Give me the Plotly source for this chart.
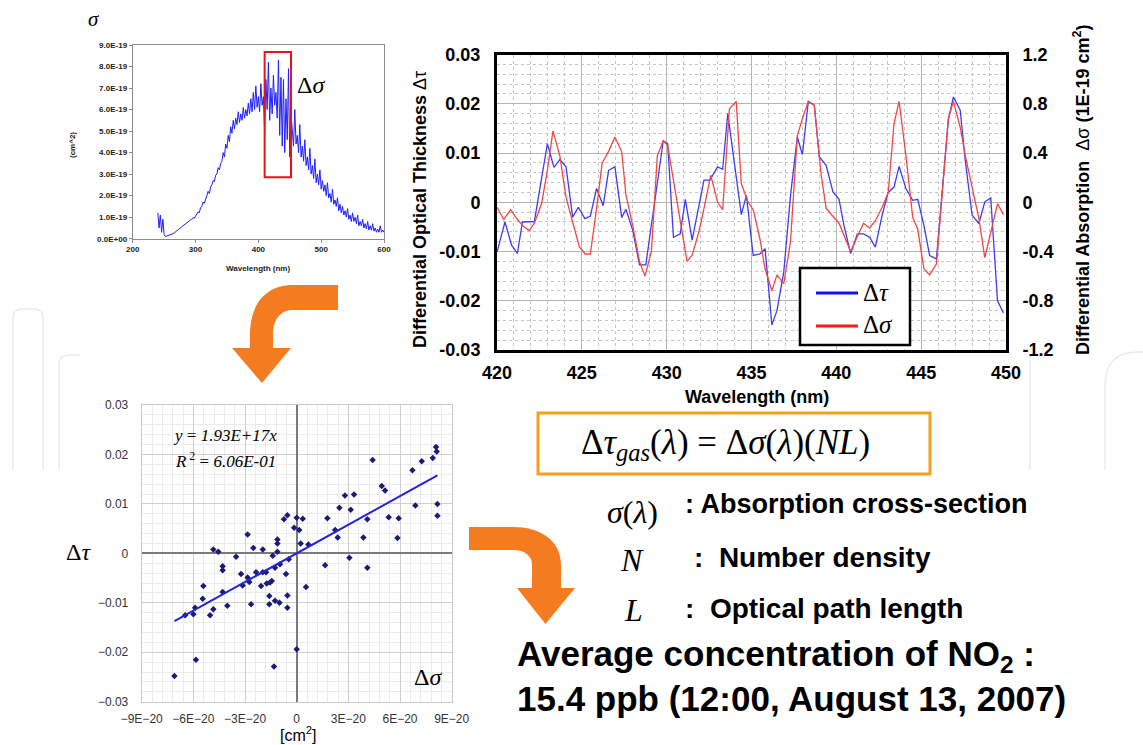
import plotly.graph_objects as go

W, H = 1143, 745

# ---------------- data ----------------
# NO2 absorption cross-section spectrum (units of 1E-19 cm^2), 2 nm steps 240..600 nm
spec_wl = list(range(240, 601, 2))
spec_sigma = [
    1.2, 0.5, 1.1, 0.3, 0.9, 0.2, 0.1,
    0.12, 0.13, 0.15, 0.17, 0.2, 0.23, 0.27, 0.31, 0.36, 0.4, 0.45, 0.5, 0.55, 0.6, 0.65, 0.7,
    0.74, 0.78, 0.82, 0.87, 0.9, 0.98, 0.95, 1.05,
    1.1, 1.25, 1.2, 1.45, 1.5, 1.7, 1.65, 1.9, 2.0, 2.2, 2.1, 2.4, 2.5, 2.7, 2.65, 2.95, 3.0, 3.3, 3.2, 3.5,
    3.6, 4.0, 3.8, 4.4, 4.2, 4.8, 4.5, 5.2, 4.9, 5.5, 5.1, 5.6, 5.3, 5.9, 5.4, 5.8, 5.5, 6.1, 5.6, 6.0,
    5.7, 6.3, 5.8, 6.5, 5.9, 6.8, 6.0, 7.1, 6.1, 6.6, 5.9, 7.2, 6.2, 6.6,
    5.0, 7.4, 6.0, 8.2, 5.5, 7.0, 5.8, 7.6, 6.2, 6.8, 5.6, 8.3, 4.8, 7.5, 4.3, 7.4, 4.0, 6.5, 4.6, 7.9, 3.8, 5.8,
    5.2, 4.3, 6.0, 4.4, 4.8, 4.0, 5.3, 3.8, 4.3, 3.6, 4.6, 3.4, 3.8, 3.2, 4.2, 3.0, 3.4, 2.8, 3.7, 2.6, 3.0, 2.5, 3.2, 2.3,
    2.7, 2.2, 2.5, 2.0, 2.6, 1.9, 2.1, 1.7, 2.3, 1.6, 1.8, 1.5, 1.9, 1.3, 1.6, 1.2, 1.5, 1.1, 1.3, 1.0, 1.4, 0.9, 1.1, 0.8, 1.2,
    0.8, 1.0, 0.7, 1.1, 0.6, 0.8, 0.6, 0.9, 0.5, 0.7, 0.45, 0.8, 0.4, 0.6, 0.4, 0.7, 0.35, 0.5, 0.3, 0.45, 0.3, 0.6, 0.3, 0.4, 0.3,
]
spec_ticks = [0, 1, 2, 3, 4, 5, 6, 7, 8, 9]
spec_ticktext = ["0.0E+00"] + [f"{v}.0E-19" for v in spec_ticks[1:]]
box_wl = [410, 452]
box_sigma = [2.85, 8.68]

# Differential optical thickness (measured)
tau_wl = [420.0, 420.47, 420.86, 421.2, 421.5, 422.2, 422.97, 423.36, 423.7, 424.07,
          424.46, 424.79, 425.18, 425.5, 425.87, 426.26, 426.58, 426.95, 427.35, 427.6,
          428.0, 428.4, 428.77, 429.8, 430.06, 430.4, 430.8, 431.1, 431.5, 432.2,
          432.55, 433.0, 433.3, 433.6, 434.4, 434.7, 435.1, 435.5, 435.8, 436.2,
          436.5, 436.9, 437.3, 437.7, 438.0, 438.35, 438.7, 439.0, 439.4, 439.8,
          440.16, 440.45, 440.84, 441.24, 441.6, 441.96, 442.3, 442.7, 443.06, 443.4,
          443.7, 444.1, 444.5, 444.8, 445.16, 445.5, 445.9, 446.6, 446.9, 447.3,
          447.6, 448.0, 448.4, 448.75, 449.1, 449.5, 449.85]
tau_val = [-0.0101, -0.004, -0.0087, -0.0104, -0.004, -0.0039, 0.0119, 0.0071, 0.0087, 0.0072,
           -0.003, -0.001, -0.0033, -0.0028, 0.0028, -0.0007, 0.0065, 0.0072, -0.0031, -0.0014,
           -0.0057, -0.0127, -0.0127, 0.0125, 0.0119, -0.0071, -0.0064, 0.0006, -0.0077, 0.0045,
           0.0045, 0.0072, 0.0067, 0.018, -0.0025, 0.0014, -0.0108, -0.0105, -0.0094, -0.0249,
           -0.022, -0.0142, 0.0014, 0.0133, 0.0097, 0.0205, 0.0197, 0.0092, 0.0075, 0.0021,
           0.0006, -0.0047, -0.0104, -0.0064, -0.0064, -0.0071, -0.0091, -0.0026, 0.002, 0.0031,
           0.0073, 0.0028, 0.0004, 0.0006, -0.0047, -0.0108, -0.0115, 0.0167, 0.0214, 0.0187,
           0.0085, -0.0026, -0.0043, 0.0001, 0.0009, -0.02, -0.0225]

# Differential absorption cross-section (1E-19 cm^2)
sig_wl = [420.0, 420.4, 420.8, 421.2, 421.6, 421.9, 422.2, 422.63, 422.97, 423.3,
          423.7, 424.07, 424.46, 424.85, 425.2, 425.5, 425.87, 426.2, 426.6, 426.95,
          427.35, 427.6, 428.0, 428.4, 428.72, 429.1, 429.45, 429.8, 430.06, 430.85,
          431.2, 431.5, 431.9, 432.2, 432.6, 433.0, 433.3, 433.7, 434.1, 434.4,
          434.8, 435.1, 435.5, 435.8, 436.2, 436.5, 436.9, 437.3, 437.7, 438.0,
          438.35, 438.7, 439.1, 439.4, 440.16, 440.84, 441.24, 441.6, 441.96, 442.3,
          442.7, 443.06, 443.4, 443.7, 444.1, 444.5, 444.8, 445.16, 445.5, 445.9,
          446.2, 446.6, 446.9, 447.3, 447.6, 448.0, 448.4, 448.75, 449.1, 449.5, 449.85]
sig_val = [-0.04, -0.14, -0.06, -0.14, -0.2, -0.23, -0.17, -0.01, 0.26, 0.58,
           0.38, 0.04, -0.16, -0.36, -0.42, -0.42, -0.05, 0.32, 0.42, 0.53,
           0.41, 0.06, -0.19, -0.48, -0.6, -0.4, 0.38, 0.5, 0.46, -0.2,
           -0.48, -0.43, -0.24, -0.05, 0.22, 0.0, -0.06, 0.76, 0.82, 0.15,
           0.0, -0.06, -0.3, -0.54, -0.72, -0.59, -0.66, -0.32, 0.54, 0.68,
           0.82, 0.79, 0.23, -0.05, -0.17, -0.4, -0.28, -0.17, -0.21, -0.15,
           -0.04, 0.08, 0.64, 0.82, 0.38, -0.12, -0.22, -0.54, -0.59, -0.5,
           0.0, 0.68, 0.82, 0.61, 0.38, 0.11, -0.13, -0.45, -0.24, -0.01, -0.1]

# Scatter: delta sigma (1E-20 cm^2) vs delta tau
sc_dsig = [-7.1, -5.85, -1.32, 0.0, -6.48, -6.0, -5.9, -5.46, -5.42, -5.03,
           -4.84, -4.84, -4.55, -4.3, -4.3, -4.3, -4.03, -3.52, -3.23, -3.14,
           -2.85, -2.85, -2.75, -2.65, -2.52, -2.36, -2.07, -1.97, -1.97, -1.78,
           -1.74, -1.59, -1.59, -1.55, -1.45, -1.39, -1.26, -1.26, -1.12, -1.12,
           -1.12, -1.0, -0.97, -0.74, -0.62, -0.54, -0.54, -0.54, -0.46, -0.15,
           0.0, 0.15, 0.23, 0.35, 0.54, 0.68, 1.65, 1.78, 2.23, 2.38,
           2.48, 2.8, 3.06, 3.14, 3.33, 3.87, 4.1, 4.1, 4.41, 4.94,
           5.13, 5.34, 5.85, 5.92, 6.72, 6.89, 7.26, 7.9, 8.09, 8.13, 8.17, 8.17]
sc_dtau = [-0.0248, -0.0215, -0.0229, -0.0194, -0.0125, -0.0123, -0.011, -0.0092, -0.0066, -0.0125,
           -0.0113, 0.0008, 0.0003, -0.0026, -0.0034, -0.0078, -0.0106, -0.0007, -0.0042, -0.0065,
           0.0038, -0.0049, -0.0058, -0.0103, 0.0011, -0.0038, -0.0066, 0.0008, -0.0038, -0.0038,
           -0.0061, -0.0086, -0.0103, -0.0059, -0.0056, -0.0005, -0.0029, -0.0096, 0.0028, 0.002,
           0.0003, -0.01, -0.0022, 0.0069, -0.0042, 0.0077, -0.0085, -0.011, -0.0012, 0.0052,
           0.0072, 0.0047, 0.002, 0.007, -0.0068, 0.0018, -0.0024, 0.0071, 0.0047, 0.0032,
           0.0092, 0.0117, -0.0009, 0.0088, 0.0119, 0.0032, 0.0069, -0.0029, 0.0189, 0.0136,
           0.0127, 0.0073, 0.0031, 0.0071, 0.0168, 0.0097, 0.0186, 0.0193, 0.0215, 0.0206, 0.01, 0.0076]
fit_slope = 1.93e17   # per cm^2
sc_xticks = [-9, -6, -3, 0, 3, 6, 9]
sc_xticktext = ["\u22129E\u221220", "\u22126E\u221220", "\u22123E\u221220", "0", "3E\u221220", "6E\u221220", "9E\u221220"]
sc_yticks = [-0.03, -0.02, -0.01, 0, 0.01, 0.02, 0.03]
sc_yticktext = ["\u22120.03", "\u22120.02", "\u22120.01", "0", "0.01", "0.02", "0.03"]

main_yticks = [-0.03, -0.02, -0.01, 0, 0.01, 0.02, 0.03]
main_yticktext = ["-0.03", "-0.02", "-0.01", "0", "0.01", "0.02", "0.03"]
main_y2ticks = [-1.2, -0.8, -0.4, 0, 0.4, 0.8, 1.2]
main_y2ticktext = ["-1.2", "-0.8", "-0.4", "0", "0.4", "0.8", "1.2"]

# ---------------- helpers ----------------
def px(x):
    return x / W

def py(y):
    return 1 - y / H

def ppath(cmds, close=True):
    out = []
    for c in cmds:
        op, pts = c[0], c[1:]
        coords = []
        for i in range(0, len(pts), 2):
            coords.append(f"{px(pts[i]):.5f},{py(pts[i+1]):.5f}")
        out.append(op + " " + " ".join(coords))
    return " ".join(out) + (" Z" if close else "")

SANS = "Liberation Sans, Arial, sans-serif"
SERIF = "Liberation Serif, Times New Roman, serif"
ORANGE = "#f47b20"

fig = go.Figure()

# spectrum
fig.add_trace(go.Scatter(x=spec_wl, y=spec_sigma, mode="lines", xaxis="x", yaxis="y",
                         line=dict(color="#1f1fff", width=1), showlegend=False))
# main chart
fig.add_trace(go.Scatter(x=tau_wl, y=tau_val, mode="lines", xaxis="x2", yaxis="y2",
                         line=dict(color="#3d3df2", width=1.3), showlegend=False))
fig.add_trace(go.Scatter(x=sig_wl, y=sig_val, mode="lines", xaxis="x2", yaxis="y3",
                         line=dict(color="#f24646", width=1.3), showlegend=False))
# scatter
fig.add_trace(go.Scatter(x=sc_dsig, y=sc_dtau, mode="markers", xaxis="x3", yaxis="y4",
                         marker=dict(symbol="diamond", size=5, color="#1b1b78"), showlegend=False))
fx = [min(sc_dsig), max(sc_dsig)]
fig.add_trace(go.Scatter(x=fx, y=[fit_slope * v * 1e-20 for v in fx], mode="lines", xaxis="x3", yaxis="y4",
                         line=dict(color="#2424d8", width=2), showlegend=False))

tf_main = dict(family=SANS, size=18, color="black", weight="bold")
common_main = dict(showline=True, linecolor="black", linewidth=3, mirror=True, zeroline=False,
                   ticks="outside", tickcolor="rgba(0,0,0,0)", automargin=False)

fig.update_layout(
    width=W, height=745, margin=dict(l=0, r=0, t=0, b=0, pad=0),
    paper_bgcolor="white", plot_bgcolor="white",
    xaxis=dict(domain=[px(132.7), px(384)], range=[200, 600], tickvals=[200, 300, 400, 500, 600],
               tickfont=dict(family=SANS, size=8, weight="bold", color="#222"),
               showline=True, linecolor="#8a8a8a", mirror=True, showgrid=False, zeroline=False,
               ticks="outside", ticklen=3, tickcolor="#8a8a8a", anchor="y", automargin=False),
    yaxis=dict(domain=[py(238.7), py(45)], range=[0, 9], tickvals=spec_ticks, ticktext=spec_ticktext,
               tickfont=dict(family=SANS, size=8, weight="bold", color="#222"),
               showline=True, linecolor="#8a8a8a", mirror=True, showgrid=False, zeroline=False,
               ticks="outside", ticklen=3, tickcolor="#8a8a8a", anchor="x", automargin=False),
    xaxis2=dict(domain=[px(497), px(1006)], range=[420, 450], tickvals=[420, 425, 430, 435, 440, 445, 450],
                tickfont=tf_main, showgrid=True, gridcolor="#b4b4b4", gridwidth=1, ticklen=4,
                minor=dict(dtick=1, tick0=420, showgrid=True, gridcolor="#c6c6c6", griddash="dot", gridwidth=1),
                anchor="y2", **common_main),
    yaxis2=dict(domain=[py(350), py(54.6)], range=[-0.03, 0.03], tickvals=main_yticks, ticktext=main_yticktext,
                tickfont=tf_main, showgrid=True, gridcolor="#b4b4b4", gridwidth=1, ticklen=10,
                minor=dict(dtick=0.002, tick0=0, showgrid=True, gridcolor="#c6c6c6", griddash="dot", gridwidth=1),
                anchor="x2", **common_main),
    yaxis3=dict(overlaying="y2", side="right", range=[-1.2, 1.2], tickvals=main_y2ticks, ticktext=main_y2ticktext,
                tickfont=tf_main, showgrid=False, anchor="x2", showline=True, linecolor="black", linewidth=3,
                zeroline=False, ticks="outside", ticklen=10, tickcolor="rgba(0,0,0,0)", automargin=False),
    xaxis3=dict(domain=[px(141.7), px(451.7)], range=[-9, 9], tickvals=sc_xticks, ticktext=sc_xticktext,
                tickfont=dict(family=SANS, size=12, color="#333"),
                showgrid=True, gridcolor="#cfcfcf", gridwidth=1,
                minor=dict(dtick=0.6, tick0=0, showgrid=True, gridcolor="#ebebeb", gridwidth=1),
                zeroline=True, zerolinecolor="#7a7a7a", zerolinewidth=1.5,
                showline=True, linecolor="#c8c8c8", mirror=True,
                ticks="outside", ticklen=6, tickcolor="rgba(0,0,0,0)", anchor="y4", automargin=False),
    yaxis4=dict(domain=[py(701.7), py(405)], range=[-0.03, 0.03], tickvals=sc_yticks, ticktext=sc_yticktext,
                tickfont=dict(family=SANS, size=12, color="#333"),
                showgrid=True, gridcolor="#cfcfcf", gridwidth=1,
                minor=dict(dtick=0.002, tick0=0, showgrid=True, gridcolor="#ebebeb", gridwidth=1),
                zeroline=True, zerolinecolor="#7a7a7a", zerolinewidth=1.5,
                showline=True, linecolor="#c8c8c8", mirror=True,
                ticks="outside", ticklen=10, tickcolor="rgba(0,0,0,0)", anchor="x3", automargin=False),
)

shapes = []
# faint watermark outlines
wm = dict(color="#ececec", width=1.5)
shapes.append(dict(type="path", xref="paper", yref="paper", layer="below", line=wm,
                   path=ppath([("M", 13, 470), ("L", 13, 318), ("Q", 13, 309, 22, 309), ("L", 34, 309),
                               ("Q", 43, 309, 43, 318), ("L", 43, 470)], close=False)))
shapes.append(dict(type="path", xref="paper", yref="paper", layer="below", line=wm,
                   path=ppath([("M", 59, 470), ("L", 59, 365), ("Q", 59, 355, 69, 355), ("L", 80, 355)], close=False)))
shapes.append(dict(type="path", xref="paper", yref="paper", layer="below", line=wm,
                   path=ppath([("M", 1030, 470), ("L", 1030, 352)], close=False)))
shapes.append(dict(type="path", xref="paper", yref="paper", layer="below", line=wm,
                   path=ppath([("M", 1105, 470), ("L", 1105, 385), ("Q", 1105, 352, 1138, 352), ("L", 1143, 352)], close=False)))

# red box on spectrum
shapes.append(dict(type="rect", xref="x", yref="y", x0=box_wl[0], x1=box_wl[1], y0=box_sigma[0], y1=box_sigma[1],
                   line=dict(color="#e8141c", width=2)))

# orange arrows
shapes.append(dict(type="path", xref="paper", yref="paper", fillcolor=ORANGE, line=dict(width=0),
                   path=ppath([("M", 338, 285), ("L", 293, 285), ("C", 265, 285, 250, 305, 250, 335),
                               ("L", 250, 348), ("L", 232, 348), ("L", 262, 383), ("L", 291, 348),
                               ("L", 273, 348), ("L", 273, 335), ("C", 273, 320, 280, 310, 293, 310),
                               ("L", 338, 310)])))
shapes.append(dict(type="path", xref="paper", yref="paper", fillcolor=ORANGE, line=dict(width=0),
                   path=ppath([("M", 469, 527), ("L", 513, 527), ("C", 540, 527, 561, 540, 561, 565),
                               ("L", 561, 588), ("L", 575, 588), ("L", 545.5, 624), ("L", 517, 588),
                               ("L", 532, 588), ("L", 532, 565), ("C", 532, 556, 525, 550, 513, 550),
                               ("L", 469, 550)])))

# legend box (main chart)
shapes.append(dict(type="rect", xref="paper", yref="paper", x0=px(800), x1=px(910), y0=py(345), y1=py(268),
                   fillcolor="white", line=dict(color="black", width=2.5)))
shapes.append(dict(type="line", xref="paper", yref="paper", x0=px(816), x1=px(858), y0=py(293), y1=py(293),
                   line=dict(color="#1010ff", width=3)))
shapes.append(dict(type="line", xref="paper", yref="paper", x0=px(816), x1=px(858), y0=py(326), y1=py(326),
                   line=dict(color="#ff1a1a", width=3)))

# formula box
shapes.append(dict(type="rect", xref="paper", yref="paper", x0=px(538), x1=px(930), y0=py(474), y1=py(413),
                   line=dict(color="#f5a01e", width=3)))

fig.update_layout(shapes=shapes)

anns = []
def A(x, y, text, size, family=SANS, xanchor="center", angle=0, color="black", weight=None):
    f = dict(family=family, size=size, color=color)
    if weight:
        f["weight"] = weight
    anns.append(dict(xref="paper", yref="paper", x=px(x), y=py(y), text=text, showarrow=False,
                     xanchor=xanchor, yanchor="middle", textangle=angle, font=f, borderpad=0))

# spectrum labels
A(94, 19, "<i>σ</i>", 21, SERIF)
A(311, 85, "Δ<i>σ</i>", 24, SERIF)
A(258, 268, "Wavelength (nm)", 8, weight="bold", color="#222")
A(72, 145, "(cm^2)", 8, angle=-90, weight="bold", color="#222")

# main chart titles
A(420, 210, "<b>Differential Optical Thickness</b> Δτ", 18, angle=-90)
A(1081, 190, "<b>Differential Absorption</b>  Δσ <b>(1E-19 cm<sup>2</sup>)</b>", 18, angle=-90)
A(757, 397, "Wavelength (nm)", 18, weight="bold")

# legend labels
A(862, 292, "Δ<i>τ</i>", 25, SERIF, xanchor="left")
A(862, 325, "Δ<i>σ</i>", 25, SERIF, xanchor="left")

# scatter labels
A(225, 435, "<i>y</i> = <i>1.93E+17x</i>", 17, SERIF)
A(225, 460, "<i>R</i><sup> 2</sup> = <i>6.06E-01</i>", 17, SERIF)
A(428, 677, "Δ<i>σ</i>", 24, SERIF)
A(78, 552, "Δ<i>τ</i>", 24, SERIF)
A(298, 734, "[cm<sup>2</sup>]", 16)

# formula and definitions
A(725, 444, "Δ<i>τ</i><sub><i>gas</i></sub>(<i>λ</i>) = Δ<i>σ</i>(<i>λ</i>)(<i>NL</i>)", 35, SERIF)
A(632, 512, "<i>σ</i>(<i>λ</i>)", 32, SERIF)
A(684, 504, ": Absorption cross-section", 27, xanchor="left", weight="bold")
A(632, 560, "<i>N</i>", 32, SERIF)
A(693, 557, ":  Number density", 28, xanchor="left", weight="bold")
A(633, 610, "<i>L</i>", 32, SERIF)
A(684, 608, ":  Optical path length", 28, xanchor="left", weight="bold")
A(516, 656, "Average concentration of NO<sub>2</sub> :", 35, xanchor="left", weight="bold")
A(516, 698, "15.4 ppb (12:00, August 13, 2007)", 35, xanchor="left", weight="bold")

fig.update_layout(annotations=anns)

fig.write_html("out.html", config={"displayModeBar": False},
               post_script="document.body.style.margin='0px';document.body.style.padding='0px';")
